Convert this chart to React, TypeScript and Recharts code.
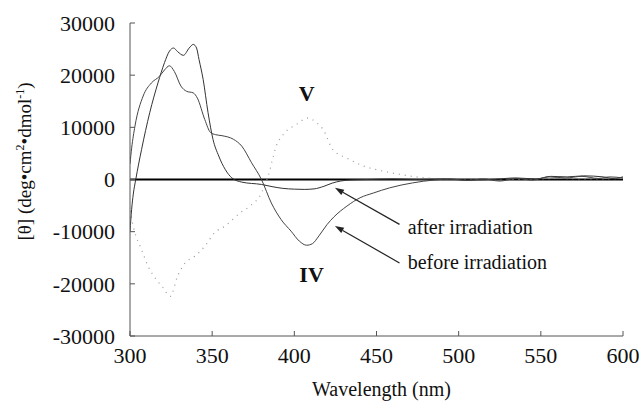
import React from 'react';
import { LineChart, Line, XAxis, YAxis, ReferenceLine, ReferenceDot, Label } from 'recharts';

// wavelength (nm) / ellipticity readings, before irradiation (curve IV)
const beforeWl = [300, 301, 303, 308, 313, 318, 321, 324, 327, 331, 334.5, 338.5, 341, 345.5, 349, 352, 356, 363, 368, 374, 380, 386, 392, 398, 403, 407.5, 411, 415, 420, 424, 432, 440, 448, 458, 472, 485, 495, 505, 515, 525, 535, 545, 555, 565, 575, 585, 592, 600];
const beforeTheta = [3000, 6000, 10200, 16000, 18500, 19800, 21000, 21800, 20700, 17900, 16900, 16600, 15600, 11500, 9000, 8600, 8400, 7700, 6400, 3200, 0, -4500, -7700, -9900, -11800, -12600, -12300, -10800, -8600, -7200, -5100, -3500, -2600, -1600, -650, -100, 100, -200, 100, -300, 200, -100, 500, 300, 600, 200, 500, 300];

// after irradiation
const afterWl = [300, 301, 302, 303.5, 307, 312, 317, 321, 324, 326.5, 329, 332.5, 336, 338.5, 340.5, 342, 344.5, 347.5, 350.5, 354, 358, 362, 368, 380, 387, 393, 400, 406, 412, 418, 423, 428, 434, 445, 460, 475, 490, 505, 520, 535, 547, 556, 566, 576, 588, 594, 600];
const afterTheta = [-10000, -5700, -2800, 0, 5700, 12800, 18500, 22400, 24600, 25200, 24500, 23800, 25200, 25900, 25200, 23000, 19200, 12800, 7700, 4500, 1900, 300, -500, -950, -1400, -1700, -1850, -1900, -1800, -1300, -700, -300, -100, 0, 100, 0, 100, -100, 0, 300, 100, 600, 500, 700, 500, 200, 500];

// compound V (dotted)
const vWl = [300, 302, 303, 307, 311, 316, 320, 324.5, 329, 333.5, 339.5, 345.5, 351.5, 358, 367, 373, 380, 384, 389, 394, 401, 408.5, 413, 417.5, 423.5, 432, 442, 454, 464, 474, 485, 500, 520, 540, 560, 580, 600];
const vTheta = [-6000, -9000, -10200, -13400, -16600, -19200, -20700, -22400, -18500, -16000, -14700, -12800, -10200, -8900, -6400, -5100, -2600, 600, 6400, 8900, 10500, 11800, 11000, 9600, 5700, 4100, 2600, 1600, 1000, 500, 200, 0, 100, 0, 200, 100, 200];

const xTicks = [300, 350, 400, 450, 500, 550, 600];
const yTicks = [-30000, -20000, -10000, 0, 10000, 20000, 30000];

const zip = (xs: number[], ys: number[]) => xs.map((x, i) => ({ x, y: ys[i] }));
const beforeData = zip(beforeWl, beforeTheta);
const afterData = zip(afterWl, afterTheta);
const vData = zip(vWl, vTheta);

const FONT = '"Liberation Serif", "Times New Roman", serif';

const arrowShape = (props: any) => {
  const { x1, y1, x2, y2 } = props;
  const a = Math.atan2(y2 - y1, x2 - x1);
  const len = 9;
  const w = 3;
  const bx = x2 - len * Math.cos(a);
  const by = y2 - len * Math.sin(a);
  const p1 = `${bx + w * Math.sin(a)},${by - w * Math.cos(a)}`;
  const p2 = `${bx - w * Math.sin(a)},${by + w * Math.cos(a)}`;
  return (
    <g>
      <line x1={x1} y1={y1} x2={bx} y2={by} stroke="#222" strokeWidth={1.2} />
      <polygon points={`${x2},${y2} ${p1} ${p2}`} fill="#222" />
    </g>
  );
};

const textShape = (txt: string, size: number, bold: boolean, anchor: 'start' | 'middle') => (props: any) => (
  <text x={props.cx} y={props.cy} style={{ fontFamily: FONT }} fontSize={size} fontWeight={bold ? 'bold' : 'normal'} textAnchor={anchor} fill="#111">
    {txt}
  </text>
);

const YTitle = (props: any) => {
  const vb = props.viewBox;
  const cx = 31;
  const cy = vb.y + vb.height / 2 - 18;
  return (
    <text x={cx} y={cy} transform={`rotate(-90 ${cx} ${cy})`} style={{ fontFamily: FONT }} fontSize={19} textAnchor="middle" fill="#111">
      [θ] (deg•cm<tspan dy={-7} fontSize={12}>2</tspan>
      <tspan dy={7}>•dmol</tspan>
      <tspan dy={-7} fontSize={12}>-1</tspan>
      <tspan dy={7}>)</tspan>
    </text>
  );
};

const XTitle = (props: any) => {
  const vb = props.viewBox;
  return (
    <text x={vb.x + vb.width / 2 + 5} y={vb.y + 60} style={{ fontFamily: FONT }} fontSize={20} textAnchor="middle" fill="#111">
      Wavelength (nm)
    </text>
  );
};

const tickStyle = { fill: '#111', style: { fontFamily: FONT } };

export default function App() {
  return (
    <div style={{ position: 'absolute', left: 0, top: 0, width: 642, height: 401, background: '#fff' }}>
      <LineChart width={642} height={401} margin={{ top: 23, right: 19, bottom: 0, left: 0 }}>
        <XAxis
          xAxisId="b"
          type="number"
          dataKey="x"
          domain={[300, 600]}
          ticks={xTicks}
          allowDataOverflow
          height={65}
          tickSize={-5}
          tickMargin={16}
          stroke="#555"
          tick={{ ...tickStyle, fontSize: 22 }}
        >
          <Label content={XTitle} />
        </XAxis>
        <XAxis xAxisId="t" orientation="top" type="number" dataKey="x" domain={[300, 600]} height={0} tick={false} tickLine={false} stroke="#777" />
        <YAxis
          yAxisId="l"
          type="number"
          domain={[-30000, 30000]}
          ticks={yTicks}
          allowDataOverflow
          width={130}
          tickSize={-5}
          tickMargin={20}
          stroke="#555"
          tick={{ ...tickStyle, fontSize: 22 }}
        >
          <Label content={YTitle} />
        </YAxis>
        <YAxis yAxisId="r" orientation="right" type="number" domain={[-30000, 30000]} width={0} tick={false} tickLine={false} stroke="#777" />

        <ReferenceLine xAxisId="b" yAxisId="l" y={0} stroke="#000" strokeWidth={2} />

        <Line xAxisId="b" yAxisId="l" data={vData} dataKey="y" type="monotone" stroke="#999" strokeWidth={1.2} strokeDasharray="1 5" dot={false} isAnimationActive={false} />
        <Line xAxisId="b" yAxisId="l" data={afterData} dataKey="y" type="monotone" stroke="#333" strokeWidth={1} dot={false} isAnimationActive={false} />
        <Line xAxisId="b" yAxisId="l" data={beforeData} dataKey="y" type="monotone" stroke="#444" strokeWidth={1} dot={false} isAnimationActive={false} />

        <ReferenceLine xAxisId="b" yAxisId="l" segment={[{ x: 464, y: -8600 }, { x: 424.7, y: -1600 }]} shape={arrowShape} />
        <ReferenceLine xAxisId="b" yAxisId="l" segment={[{ x: 464, y: -16000 }, { x: 424.7, y: -8900 }]} shape={arrowShape} />

        <ReferenceDot xAxisId="b" yAxisId="l" x={469} y={-10500} r={0} shape={textShape('after irradiation', 20, false, 'start')} />
        <ReferenceDot xAxisId="b" yAxisId="l" x={469} y={-17200} r={0} shape={textShape('before irradiation', 20, false, 'start')} />
        <ReferenceDot xAxisId="b" yAxisId="l" x={407.5} y={15000} r={0} shape={textShape('V', 22, true, 'middle')} />
        <ReferenceDot xAxisId="b" yAxisId="l" x={410.5} y={-19700} r={0} shape={textShape('IV', 22, true, 'middle')} />
      </LineChart>
    </div>
  );
}
